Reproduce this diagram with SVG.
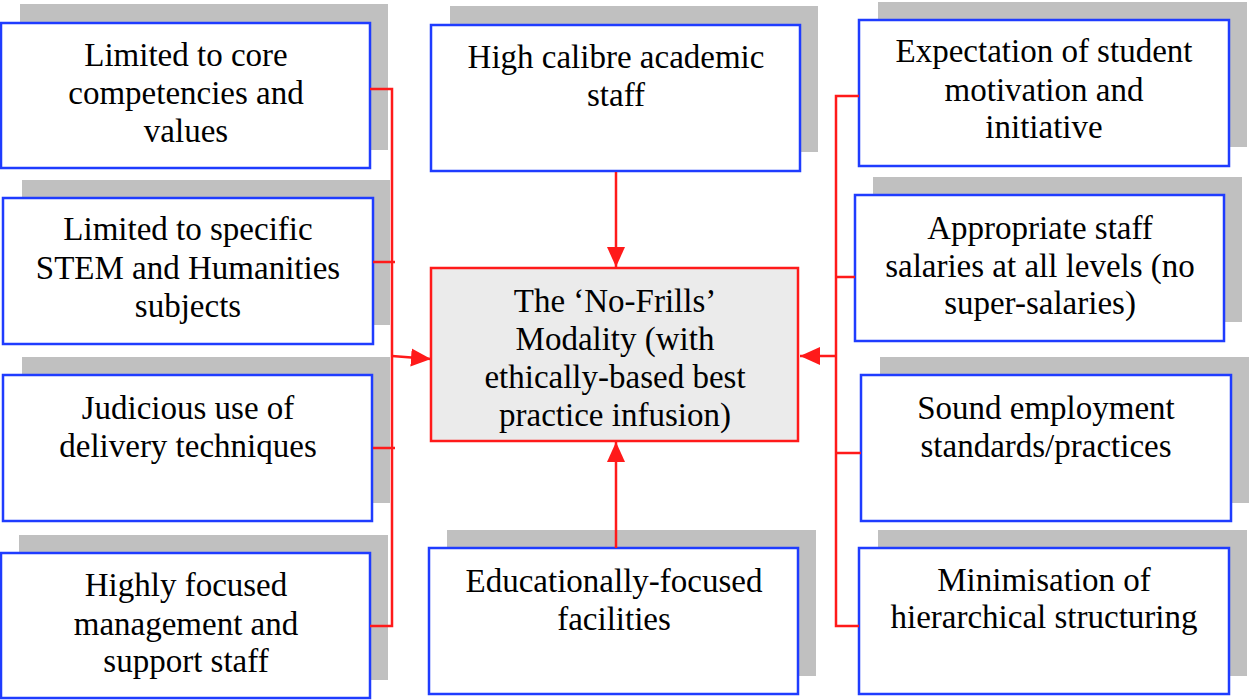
<svg xmlns="http://www.w3.org/2000/svg" width="1250" height="700" viewBox="0 0 1250 700">
<style>
.sh{fill:#c0c0c0}
.bx{fill:#fff;stroke:#1f3cff;stroke-width:2.5}
.cx{fill:#ebebeb;stroke:#ff1a1a;stroke-width:2.5}
text{font-family:"Liberation Serif","Times New Roman",serif;font-size:33px;fill:#000;text-anchor:middle}
.cn{fill:none;stroke:#ff1a1a;stroke-width:2.5}
</style>
<defs>
<marker id="ah" markerUnits="userSpaceOnUse" markerWidth="20" markerHeight="20" viewBox="0 0 20 20" refX="20" refY="10" orient="auto">
<path d="M0,1 L20,10 L0,19 Z" fill="#ff1a1a"/>
</marker>
</defs>
<rect width="1250" height="700" fill="#fff"/>

<g id="l1"><rect class="sh" x="20" y="4" width="368" height="146"/><rect class="bx" x="1" y="23" width="369" height="145"/>
<text x="186"><tspan x="186" y="66">Limited to core</tspan><tspan x="186" y="104">competencies and</tspan><tspan x="186" y="142">values</tspan></text></g>

<g id="l2"><rect class="sh" x="22" y="180" width="368" height="145"/><rect class="bx" x="3" y="198" width="370" height="146"/>
<text><tspan x="188" y="240">Limited to specific</tspan><tspan x="188" y="279">STEM and Humanities</tspan><tspan x="188" y="317">subjects</tspan></text></g>

<g id="l3"><rect class="sh" x="22" y="357" width="368" height="146"/><rect class="bx" x="3" y="375" width="369" height="146"/>
<text><tspan x="188" y="419">Judicious use of</tspan><tspan x="188" y="457">delivery techniques</tspan></text></g>

<g id="l4"><rect class="sh" x="19" y="535" width="369" height="145"/><rect class="bx" x="1" y="553" width="369" height="145"/>
<text><tspan x="186" y="596">Highly focused</tspan><tspan x="186" y="635">management and</tspan><tspan x="186" y="672">support staff</tspan></text></g>

<g id="top"><rect class="sh" x="450" y="6" width="368" height="146"/><rect class="bx" x="431" y="25" width="369" height="146"/>
<text><tspan x="616" y="68">High calibre academic</tspan><tspan x="616" y="106">staff</tspan></text></g>

<g id="center"><rect class="cx" x="431" y="268" width="367" height="173"/>
<text><tspan x="615" y="312">The ‘No-Frills’</tspan><tspan x="615" y="350">Modality (with</tspan><tspan x="615" y="388">ethically-based best</tspan><tspan x="615" y="426">practice infusion)</tspan></text></g>

<g id="bottom"><rect class="sh" x="447" y="530" width="369" height="146"/><rect class="bx" x="429" y="548" width="369" height="146"/>
<text><tspan x="614" y="592">Educationally-focused</tspan><tspan x="614" y="630">facilities</tspan></text></g>

<g id="r1"><rect class="sh" x="878" y="2" width="369" height="145"/><rect class="bx" x="859" y="20" width="370" height="146"/>
<text><tspan x="1044" y="62">Expectation of student</tspan><tspan x="1044" y="101">motivation and</tspan><tspan x="1044" y="138">initiative</tspan></text></g>

<g id="r2"><rect class="sh" x="873" y="177" width="369" height="145"/><rect class="bx" x="855" y="195" width="369" height="146"/>
<text><tspan x="1040" y="239">Appropriate staff</tspan><tspan x="1040" y="277">salaries at all levels (no</tspan><tspan x="1040" y="314">super-salaries)</tspan></text></g>

<g id="r3"><rect class="sh" x="880" y="357" width="369" height="146"/><rect class="bx" x="861" y="375" width="370" height="146"/>
<text><tspan x="1046" y="419">Sound employment</tspan><tspan x="1046" y="457">standards/practices</tspan></text></g>

<g id="r4"><rect class="sh" x="878" y="530" width="369" height="146"/><rect class="bx" x="859" y="548" width="370" height="146"/>
<text><tspan x="1044" y="591">Minimisation of</tspan><tspan x="1044" y="628">hierarchical structuring</tspan></text></g>

<g id="connectors">
<path class="cn" d="M370,89 H392 V626 H370"/>
<path class="cn" d="M373,262 H395"/>
<path class="cn" d="M373,448 H395"/>
<path class="cn" d="M392,356 L431,359" marker-end="url(#ah)"/>
<path class="cn" d="M859,96 H836 V626 H859"/>
<path class="cn" d="M835,277 H855"/>
<path class="cn" d="M836,453 H861"/>
<path class="cn" d="M836,356 L800,356" marker-end="url(#ah)"/>
<path class="cn" d="M616,172 V267" marker-end="url(#ah)"/>
<path class="cn" d="M616,548 V442" marker-end="url(#ah)"/>
</g>
</svg>
